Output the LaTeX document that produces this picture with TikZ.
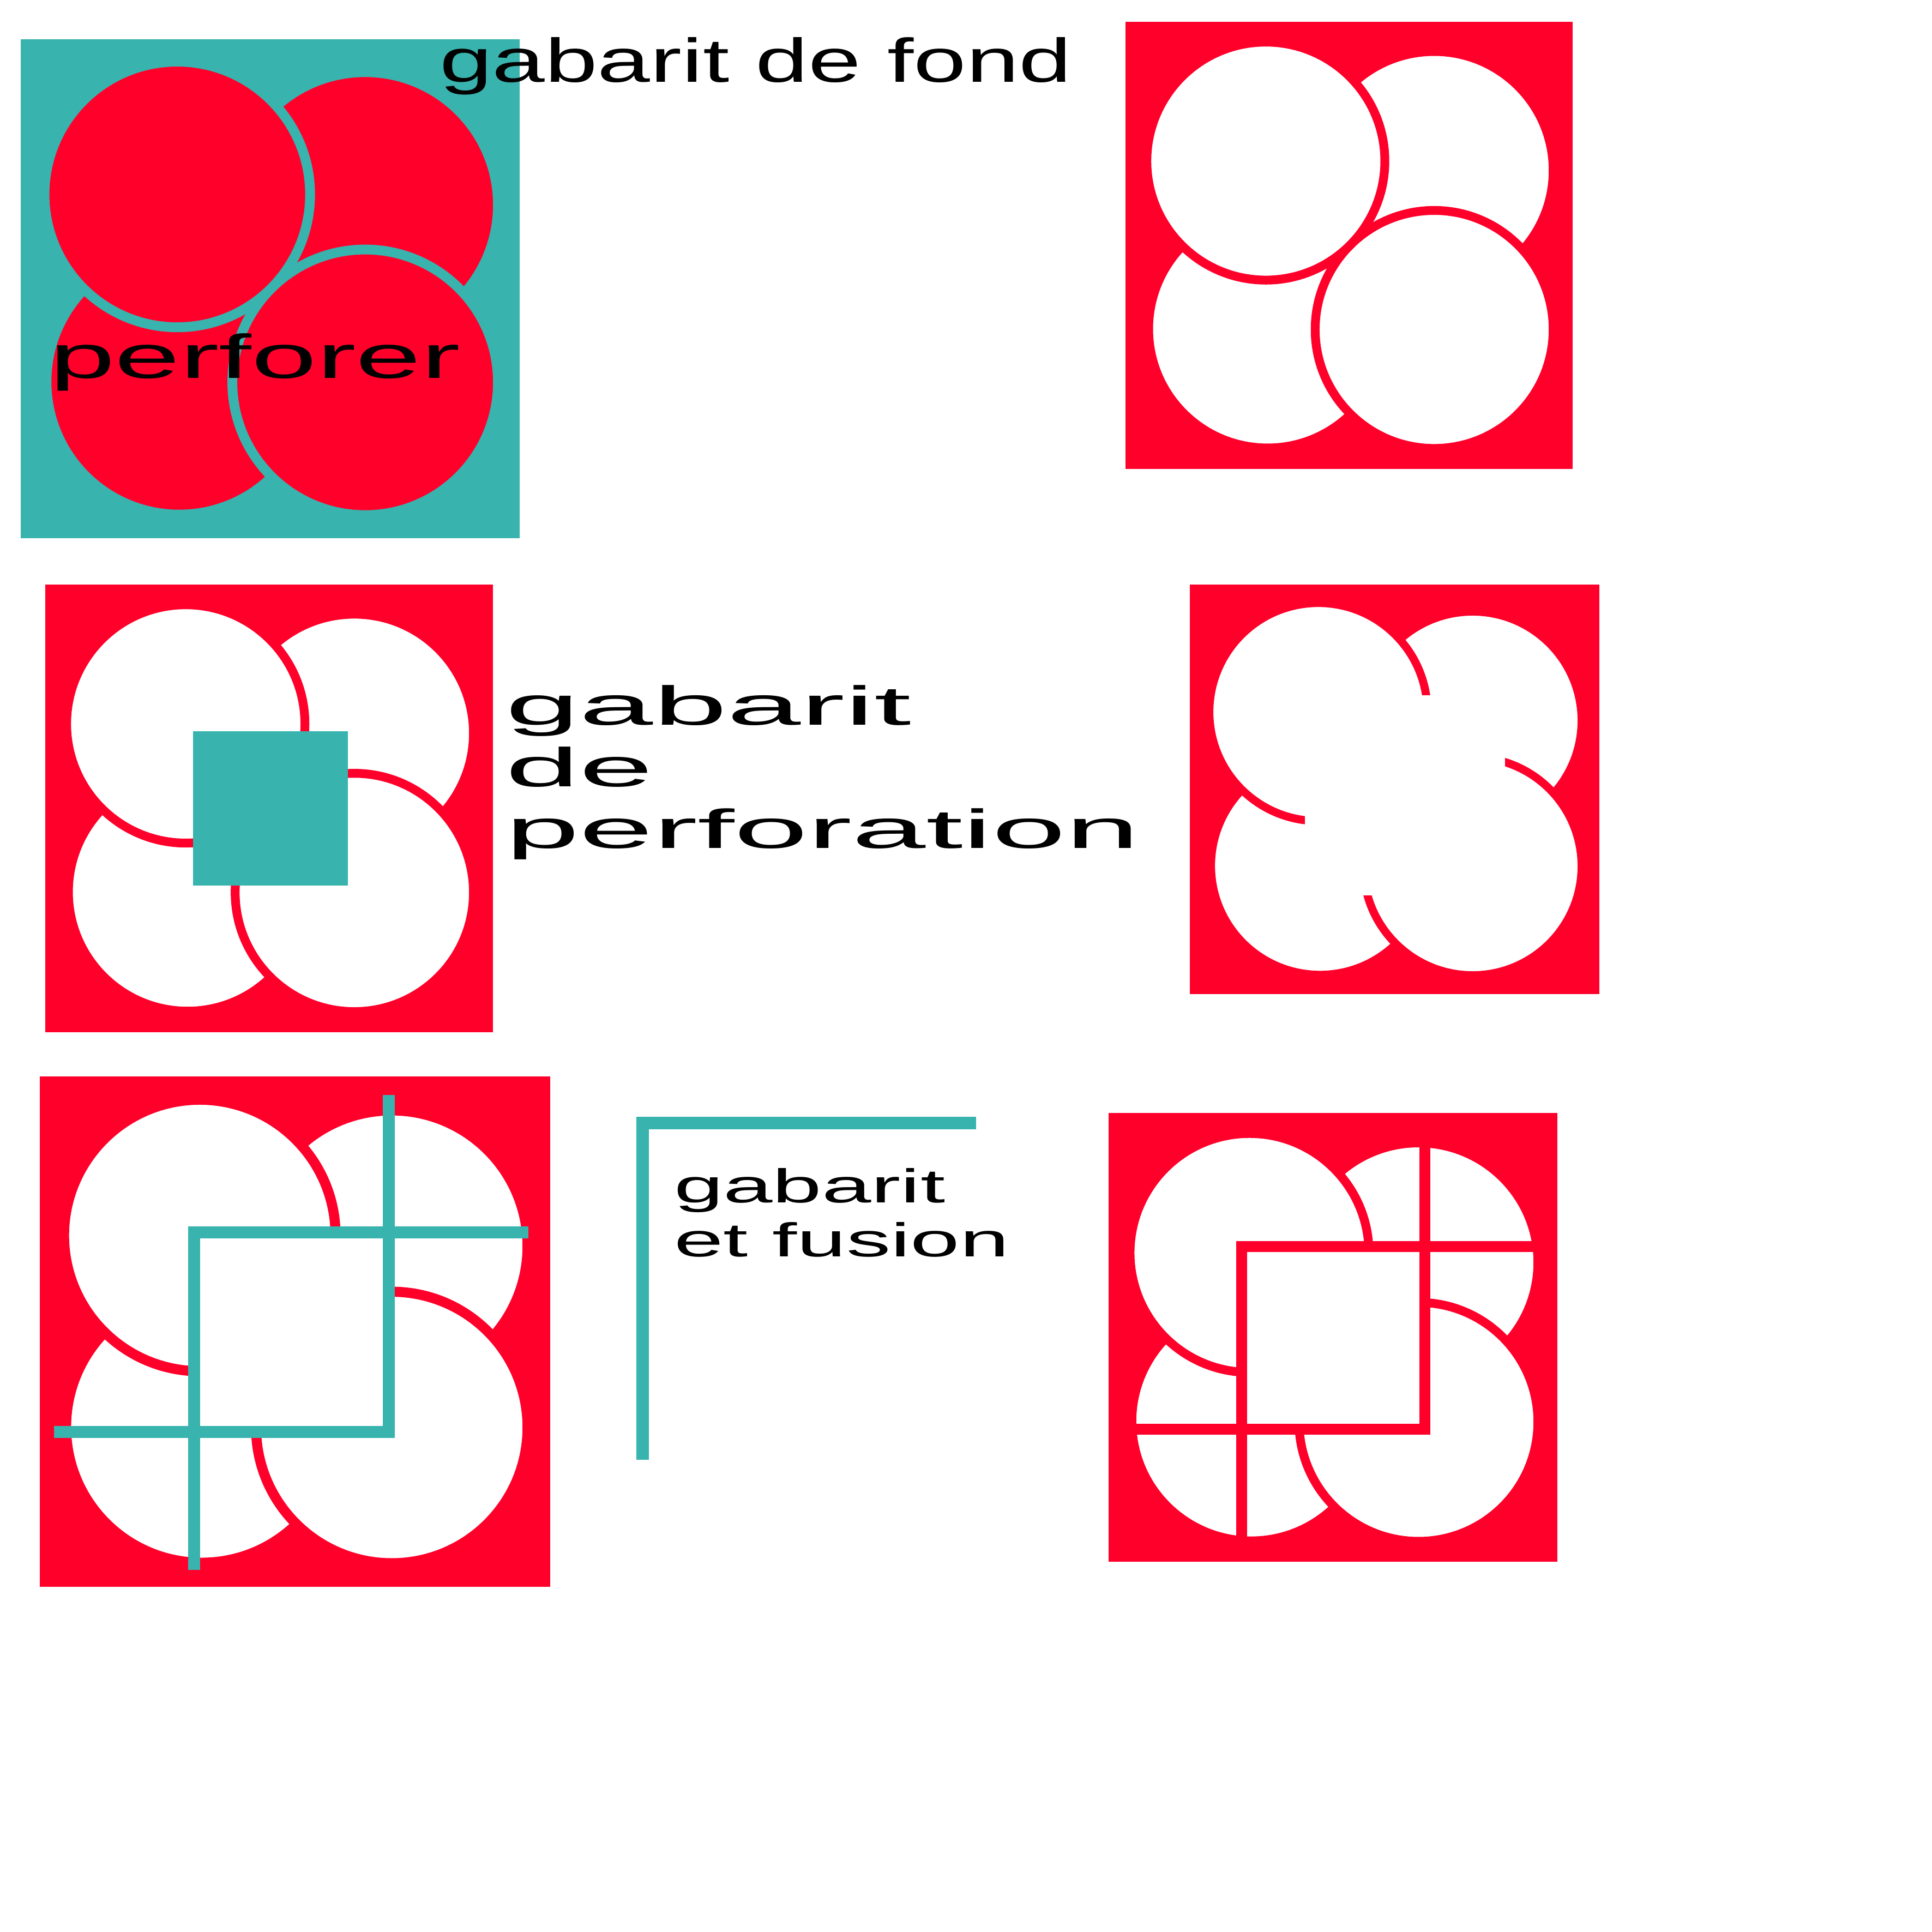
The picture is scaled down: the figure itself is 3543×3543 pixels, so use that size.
\documentclass[tikz,border=0pt]{standalone}
\usepackage{fontspec}
\setmainfont{Liberation Sans}
\usepackage{graphicx}
\definecolor{cred}{RGB}{255,0,43}
\definecolor{cteal}{RGB}{56,179,174}
\tikzset{
  lbl/.style={anchor=base west, inner sep=0pt, outer sep=0pt, text=black},
  bandL/.style={line join=miter, line cap=butt},
}
% #1 x0, #2 y0, #3 side, #4 circle fill, #5 circle outline, #6 outline width (mm)
\newcommand\cloverpanel[6]{%
  \begin{scope}[shift={(#1,#2)}, scale=#3]
    \foreach \cx/\cy in {0.690/0.3325, 0.3175/0.687, 0.690/0.688, 0.3135/0.3115}
      \filldraw[fill=#4, draw=#5, line width=#6mm] (\cx,\cy) circle (0.2662);
  \end{scope}}
\begin{document}
\begin{tikzpicture}[x=0.1mm, y=-0.1mm]
  \useasboundingbox (0,0) rectangle (3543,3543);
  \fill[white] (0,0) rectangle (3543,3543);

  % panel 1 : teal background, red discs
  \fill[cteal] (38.3,71.6) rectangle ++(915,915);
  \cloverpanel{38.3}{71.6}{915}{cred}{cteal}{1.80}

  % panel 2 : red background, white discs
  \fill[cred] (2064.3,40) rectangle ++(820,820);
  \cloverpanel{2064.3}{40}{820}{white}{cred}{1.62}

  % panel 3 : with teal perforation square
  \fill[cred] (83.3,1071.8) rectangle ++(821,821);
  \cloverpanel{83.3}{1071.8}{821}{white}{cred}{1.62}
  \fill[cteal] (354.4,1341.2) rectangle (638.2,1624.4);

  % panel 4 : perforated
  \fill[cred] (2182.2,1071.7) rectangle ++(751.2,751.2);
  \cloverpanel{2182.2}{1071.7}{751.2}{white}{cred}{1.48}
  \fill[white] (2392.6,1275) rectangle (2759.5,1642.2);

  % panel 5 : teal L bands
  \fill[cred] (73.2,1974.3) rectangle ++(935.3,935.3);
  \cloverpanel{73.2}{1974.3}{935.3}{white}{cred}{1.85}
  \fill[white] (356.2,2259.8) rectangle (712.9,2626.2);
  \draw[bandL, cteal, line width=2.23mm] (356.2,2878.5) -- (356.2,2259.8) -- (968.5,2259.8);
  \draw[bandL, cteal, line width=2.23mm] (712.9,2008.1) -- (712.9,2626.2) -- (98.7,2626.2);

  % panel 6 : fused
  \fill[cred] (2033.4,2041.3) rectangle ++(823,823);
  \cloverpanel{2033.4}{2041.3}{823}{white}{cred}{1.62}
  \fill[white] (2277.4,2285.7) rectangle (2612.8,2621.4);
  \draw[bandL, cred, line width=2.0mm] (2277.4,2840) -- (2277.4,2285.7) -- (2830,2285.7);
  \draw[bandL, cred, line width=2.0mm] (2612.8,2065) -- (2612.8,2621.4) -- (2060,2621.4);

  % lone teal L
  \draw[bandL, cteal, line width=2.3mm] (1178,2677) -- (1178,2059.8) -- (1790.3,2059.8);

  % texts
  \node[lbl, font=\fontsize{32.2pt}{38pt}\selectfont] (tfond) at (806,150)
    {\scalebox{1.536}[1]{gabarit de fond}};
  \node[lbl, font=\fontsize{32.2pt}{38pt}\selectfont] (tperforer) at (91,693.4)
    {\scalebox{1.9}[1]{perforer}};
  \node[lbl, font=\fontsize{28.6pt}{32.12pt}\selectfont] (tperf) at (927.5,1329.3)
    {\scalebox{2.42}[1]{\begin{tabular}[t]{@{}l@{}}gabarit\\de\\perforation\end{tabular}}};
  \node[lbl, font=\fontsize{24.75pt}{28.05pt}\selectfont] (tfus) at (1236,2205.7)
    {\scalebox{1.87}[1]{\begin{tabular}[t]{@{}l@{}}gabarit\\et fusion\end{tabular}}};
\end{tikzpicture}
\end{document}
